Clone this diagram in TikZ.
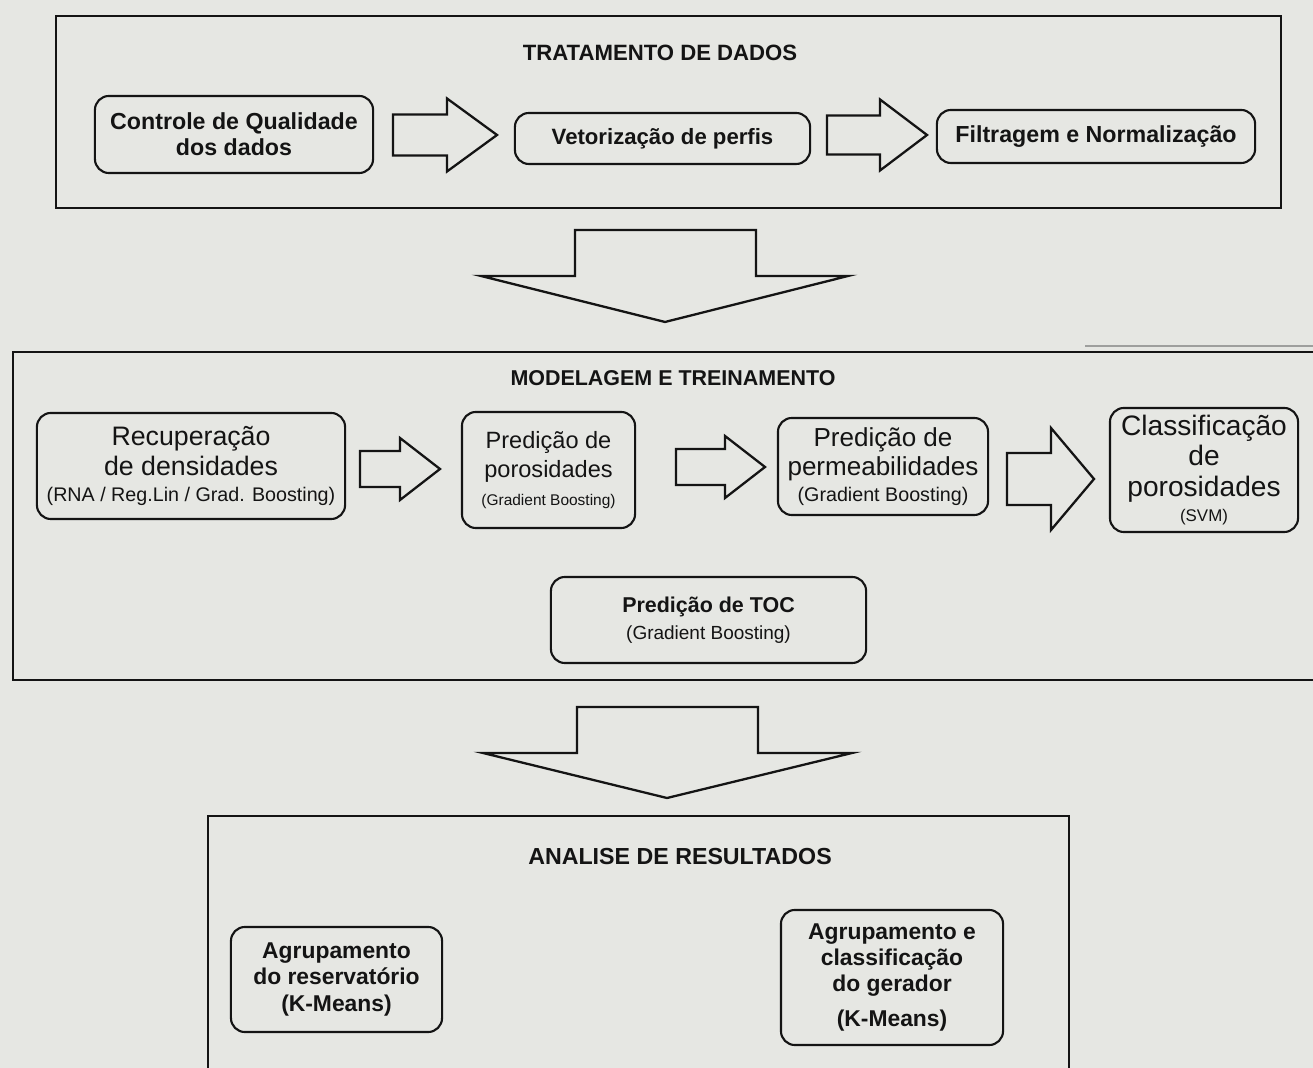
\documentclass[tikz,border=0pt]{standalone}
\usepackage{fontspec}
\setmainfont{Liberation Sans}
\definecolor{paper}{RGB}{230,231,227}
\definecolor{ink}{RGB}{20,20,20}
\newcommand\fs[2]{\fontsize{#1}{#2}\selectfont}
% hollow block arrow pointing right: x-start, head base x, tip x, centre y, shaft half height, head half height
\newcommand\rightblock[6]{%
  \draw[blockarrow] (#1,{#4-#5}) -- (#2,{#4-#5}) -- (#2,{#4-#6}) -- (#3,#4)
    -- (#2,{#4+#6}) -- (#2,{#4+#5}) -- (#1,{#4+#5}) -- cycle;}
% hollow block arrow pointing down: shaft left, shaft right, top y, shoulder y, head left, head right, tip x, tip y
\newcommand\downblock[8]{%
  \draw[blockarrow] (#1,#3) -- (#2,#3) -- (#2,#4) -- (#6,#4) -- (#7,#8)
    -- (#5,#4) -- (#1,#4) -- cycle;}
\tikzset{
  frame/.style={draw=ink, line width=0.75pt},
  box/.style={draw=ink, line width=0.6pt, rounded corners=0.14cm, align=center,
    inner sep=0pt, text=ink},
  title/.style={font=\bfseries\fs{6.3}{7.5}, text=ink, inner sep=0pt},
  blockarrow/.style={draw=ink, line width=0.65pt, line join=miter},
}
\begin{document}
\begin{tikzpicture}[x=0.01cm, y=-0.01cm]
  \fill[paper] (0,0) rectangle (1313,1068);
  \useasboundingbox (0,0) rectangle (1313,1068);
  \clip (0,0) rectangle (1313,1068);

  % ---- data treatment ----
  \draw[frame] (56,16) rectangle (1281,208);
  \node[title] (t1) at (660,53) {TRATAMENTO DE DADOS};
  \node[box, minimum width=2.78cm, minimum height=0.77cm, font=\bfseries\fs{6.6}{7.5}]
    (qc) at (234,134.5) {Controle de Qualidade\\dos dados};
  \node[box, minimum width=2.95cm, minimum height=0.51cm, font=\bfseries\fs{6.3}{7.5}]
    (vet) at (662.5,138.5) {Vetorização de perfis};
  \node[box, minimum width=3.18cm, minimum height=0.53cm, font=\bfseries\fs{6.6}{7.5}]
    (filt) at (1096,136.5) {Filtragem e Normalização};
  \rightblock{393}{447}{497}{135}{20.5}{36.5}
  \rightblock{827}{880}{927}{135}{19.5}{35.5}

  \downblock{575}{756}{230}{276}{481}{848}{665}{322}

  % ---- modelling and training ----
  \draw[gray!70!paper, line width=0.4pt] (1085,346) -- (1313,346);
  \draw[frame] (1330,352) -- (13,352) -- (13,680) -- (1330,680);
  \node[title, font=\bfseries\fs{6.1}{7.5}] (t2) at (673,378) {MODELAGEM E TREINAMENTO};

  \node[box, minimum width=3.08cm, minimum height=1.06cm, font=\fs{7.6}{8.5}] (dens) at (191,466)
    {Recuperação\\de densidades\\[-1pt]
     \fs{5.6}{7}(RNA / Reg.Lin / Grad. Boosting)};
  \node[box, minimum width=1.73cm, minimum height=1.16cm, font=\fs{6.7}{8.4}] (poro) at (548.5,470)
    {Predição de\\porosidades\\[-0.5pt]
     \fs{4.4}{6}(Gradient Boosting)};
  \node[box, minimum width=2.10cm, minimum height=0.97cm, font=\fs{7.4}{8.4}] (perm) at (883,466.5)
    {Predição de\\permeabilidades\\[-1pt]
     \fs{5.6}{7}(Gradient Boosting)};
  \node[box, minimum width=1.88cm, minimum height=1.24cm, font=\fs{8}{8.6}] (clas) at (1204,470)
    {Classificação\\de\\porosidades\\[-1.5pt]
     \fs{4.8}{6.5}(SVM)};
  \node[box, minimum width=3.15cm, minimum height=0.86cm, font=\fs{6.1}{7.6}] (toc) at (708.5,620)
    {\bfseries Predição de TOC\\
     \fs{5.4}{7}(Gradient Boosting)};
  \rightblock{360}{400}{440}{469}{18}{31}
  \rightblock{676}{725}{765}{467}{18}{31}
  \rightblock{1007}{1051}{1094}{479}{26}{51}

  \downblock{577}{758}{707}{753}{483}{852}{667}{798}

  % ---- results analysis ----
  \draw[frame] (208,1080) -- (208,816) -- (1069,816) -- (1069,1080);
  \node[title, font=\bfseries\fs{6.6}{7.5}] (t3) at (680,857) {ANALISE DE RESULTADOS};
  \node[box, minimum width=2.11cm, minimum height=1.05cm, font=\bfseries\fs{6.5}{7.5}]
    (res) at (336.5,979.5) {Agrupamento\\do reservatório\\(K-Means)};
  \node[box, minimum width=2.22cm, minimum height=1.35cm, font=\bfseries\fs{6.5}{7.4}]
    (ger) at (892,977.5) {Agrupamento e\\classificação\\do gerador\\[2.5pt](K-Means)};
\end{tikzpicture}
\end{document}
